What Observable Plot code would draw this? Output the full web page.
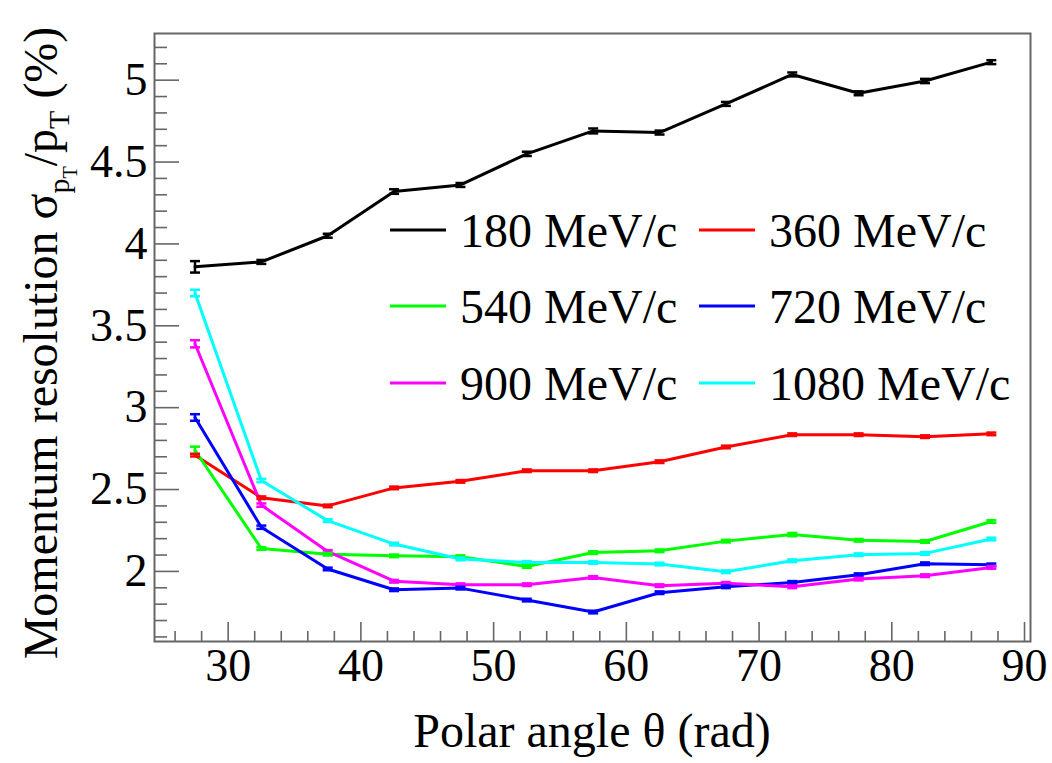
<!DOCTYPE html>
<html><head><meta charset="utf-8">
<script src="https://cdn.jsdelivr.net/npm/d3@7"></script>
<script src="https://cdn.jsdelivr.net/npm/@observablehq/plot@0.6"></script>
<style>body{margin:0;background:#fff}</style>
</head><body><div id="chart"></div>
<script>
const theta = [27.5, 32.5, 37.5, 42.5, 47.5, 52.5, 57.5, 62.5, 67.5, 72.5, 77.5, 82.5, 87.5];
const seriesNames = ["180 MeV/c", "360 MeV/c", "540 MeV/c", "720 MeV/c", "900 MeV/c", "1080 MeV/c"];
const seriesColors = ["#000000", "#ff0000", "#00ff00", "#0000ff", "#ff00ff", "#00ffff"];
const r180  = [3.86, 3.89, 4.05, 4.32, 4.36, 4.55, 4.69, 4.68, 4.855, 5.035, 4.92, 4.995, 5.11];
const r360  = [2.71, 2.45, 2.40, 2.51, 2.55, 2.615, 2.615, 2.67, 2.76, 2.835, 2.835, 2.823, 2.84];
const r540  = [2.74, 2.14, 2.105, 2.095, 2.09, 2.03, 2.115, 2.126, 2.185, 2.225, 2.19, 2.183, 2.305];
const r720  = [2.94, 2.27, 2.015, 1.888, 1.898, 1.825, 1.752, 1.87, 1.906, 1.933, 1.98, 2.047, 2.04];
const r900  = [3.39, 2.405, 2.122, 1.94, 1.919, 1.919, 1.963, 1.913, 1.927, 1.906, 1.953, 1.974, 2.024];
const r1080 = [3.70, 2.555, 2.31, 2.167, 2.076, 2.055, 2.055, 2.045, 1.998, 2.065, 2.102, 2.11, 2.198];
const e180  = [0.035, 0.012, 0.012, 0.014, 0.012, 0.013, 0.015, 0.012, 0.012, 0.012, 0.012, 0.013, 0.012];
const e360  = [0.008, 0.008, 0.008, 0.008, 0.008, 0.008, 0.008, 0.008, 0.008, 0.008, 0.008, 0.008, 0.008];
const e540  = [0.022, 0.008, 0.008, 0.008, 0.008, 0.008, 0.008, 0.008, 0.008, 0.01, 0.008, 0.008, 0.008];
const e720  = [0.02, 0.01, 0.008, 0.008, 0.008, 0.008, 0.008, 0.008, 0.008, 0.008, 0.008, 0.008, 0.008];
const e900  = [0.022, 0.01, 0.008, 0.008, 0.008, 0.008, 0.008, 0.008, 0.008, 0.008, 0.008, 0.008, 0.008];
const e1080 = [0.02, 0.01, 0.008, 0.008, 0.008, 0.008, 0.008, 0.008, 0.008, 0.008, 0.008, 0.008, 0.008];
const xMajor = [30, 40, 50, 60, 70, 80, 90];
const xMinor = [26, 28, 32, 34, 36, 38, 42, 44, 46, 48, 52, 54, 56, 58, 62, 64, 66, 68, 72, 74, 76, 78, 82, 84, 86, 88];
const yMajor = [2, 2.5, 3, 3.5, 4, 4.5, 5];
const yMinor = [1.6, 1.7, 1.8, 1.9, 2.1, 2.2, 2.3, 2.4, 2.6, 2.7, 2.8, 2.9, 3.1, 3.2, 3.3, 3.4, 3.6, 3.7, 3.8, 3.9, 4.1, 4.2, 4.3, 4.4, 4.6, 4.7, 4.8, 4.9, 5.1, 5.2];

const values = [r180, r360, r540, r720, r900, r1080];
const errors = [e180, e360, e540, e720, e900, e1080];
const rows = [];
seriesNames.forEach((s, i) => theta.forEach((t, j) => rows.push({s, x: t, y: values[i][j], e: errors[i][j]})));

const W = 1052, H = 763, mL = 154, mR = 22, mT = 33, mB = 122;
const iW = W - mL - mR, iH = H - mT - mB;
const axisGray = "#666";
const font = "Liberation Serif";
const cap = {draw(ctx) { ctx.moveTo(-5, 0); ctx.lineTo(5, 0); }};

const plot = Plot.plot({
  width: W, height: H,
  marginLeft: mL, marginRight: mR, marginTop: mT, marginBottom: mB,
  style: "font-family: 'Liberation Serif', serif; font-size: 46px; color: #000; background: #fff;",
  x: {domain: [24.45, 90.45]},
  y: {domain: [1.572, 5.285]},
  color: {domain: seriesNames, range: seriesColors},
  marks: [
    Plot.ruleX(xMajor, {stroke: axisGray, strokeWidth: 1.6, insetTop: iH - 19}),
    Plot.ruleX(xMinor, {stroke: axisGray, strokeWidth: 1.6, insetTop: iH - 10}),
    Plot.ruleY(yMajor, {stroke: axisGray, strokeWidth: 1.6, insetRight: iW - 25}),
    Plot.ruleY(yMinor, {stroke: axisGray, strokeWidth: 1.6, insetRight: iW - 13}),
    Plot.axisX({ticks: xMajor, tickSize: 0, tickPadding: 7, label: null, tickFormat: d => String(d), fontFamily: font, fontSize: 46, fill: "#000"}),
    Plot.axisY({ticks: yMajor, tickSize: 0, tickPadding: 7, label: null, tickFormat: d => String(d), fontFamily: font, fontSize: 46, fill: "#000"}),
    Plot.line(rows, {x: "x", y: "y", z: "s", stroke: "s", strokeWidth: 3}),
    Plot.ruleX(rows, {x: "x", y1: d => d.y - d.e, y2: d => d.y + d.e, stroke: "s", strokeWidth: 2.5}),
    Plot.dot(rows, {x: "x", y: d => d.y - d.e, symbol: cap, stroke: "s", strokeWidth: 2.5}),
    Plot.dot(rows, {x: "x", y: d => d.y + d.e, symbol: cap, stroke: "s", strokeWidth: 2.5}),
    Plot.frame({stroke: axisGray, strokeWidth: 2})
  ]
});
document.getElementById("chart").appendChild(plot);

const svg = d3.select(plot);
// Legend
const legX = [390, 699], legY = [230, 306, 383];
seriesNames.forEach((s, i) => {
  const cx = legX[i % 2], cy = legY[Math.floor(i / 2)];
  svg.append("line").attr("x1", cx).attr("x2", cx + 56).attr("y1", cy).attr("y2", cy)
    .attr("stroke", seriesColors[i]).attr("stroke-width", 3);
  svg.append("text").attr("x", cx + 70).attr("y", cy).attr("dy", "0.35em").attr("text-anchor", "start")
    .attr("font-family", font).attr("font-size", 48).attr("fill", "#000").text(s);
});
// X title
svg.append("text").attr("x", 592).attr("y", 747).attr("text-anchor", "middle")
  .attr("font-family", font).attr("font-size", 48).attr("fill", "#000").text("Polar angle θ (rad)");
// Y title
const yt = svg.append("text").attr("transform", "translate(57,343) rotate(-90)").attr("text-anchor", "middle")
  .attr("font-family", font).attr("font-size", 48).attr("fill", "#000");
yt.append("tspan").text("Momentum resolution σ");
yt.append("tspan").attr("font-size", 30).attr("dy", 12).text("p");
yt.append("tspan").attr("font-size", 20).attr("dy", 8).text("T");
yt.append("tspan").attr("font-size", 48).attr("dy", -20).text("/p");
yt.append("tspan").attr("font-size", 30).attr("dy", 12).text("T");
yt.append("tspan").attr("font-size", 48).attr("dy", -12).text(" (%)");
</script>
</body></html>
